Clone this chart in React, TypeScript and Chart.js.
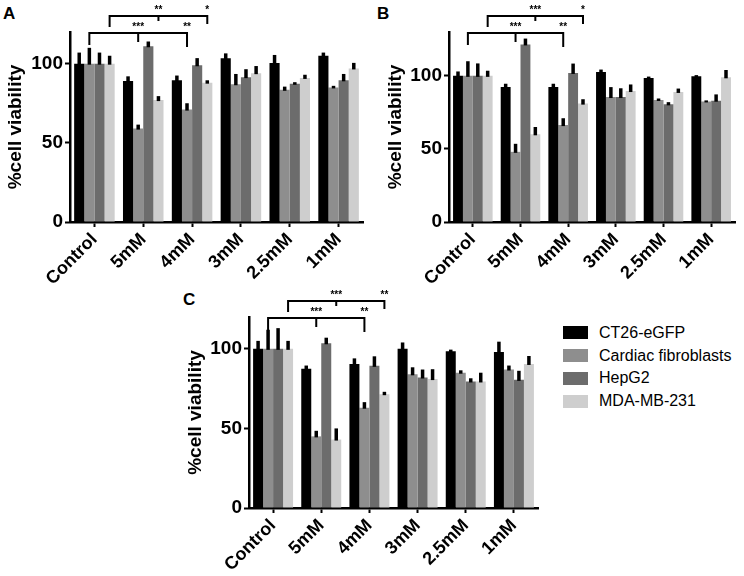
import React, { useEffect, useRef } from "react";
import { Chart, registerables } from "chart.js";

Chart.register(...registerables);

const categories = ["Control", "5mM", "4mM", "3mM", "2.5mM", "1mM"];
const seriesNames = ["CT26-eGFP", "Cardiac fibroblasts", "HepG2", "MDA-MB-231"];
const seriesColors = ["#000000", "#8e8e8e", "#6c6c6c", "#cecece"];
const yTicks = [0, 50, 100];
const yTitle = "%cell viability";

// Panel A
const aCT26 = [100, 89, 89.5, 103.5, 100.5, 105];
const aCardiac = [100, 59, 71, 87, 83.5, 85];
const aHepG2 = [100, 111, 99, 91.5, 87.3, 89.5];
const aMDA = [100, 77, 88, 94, 91, 97];
const aCT26Err = [7, 3, 3, 3, 5, 2];
const aCardiacErr = [10, 2.5, 4, 6.5, 2, 1];
const aHepG2Err = [7, 3, 4.5, 5, 1, 4];
const aMDAErr = [5, 2.5, 1.5, 4.5, 2, 3.5];
const aSigLower = ["***", "**"];
const aSigUpper = ["**", "*"];

// Panel B
const bCT26 = [100, 92.3, 92.3, 102.7, 98.5, 99.8];
const bCardiac = [100, 48, 66.3, 85.5, 83.5, 82.5];
const bHepG2 = [100, 121.5, 102, 85.5, 80.5, 83];
const bMDA = [100, 60, 81, 89.6, 89, 99];
const bCT26Err = [3, 2.3, 2.3, 1.6, 1, 0.7];
const bCardiacErr = [10, 5.5, 4.7, 6.8, 1, 0.7];
const bHepG2Err = [8.5, 4, 6.4, 6, 1.5, 4.3];
const bMDAErr = [3.5, 5, 3, 4.5, 2.3, 5];
const bSigLower = ["***", "**"];
const bSigUpper = ["***", "*"];

// Panel C
const cCT26 = [100, 87.5, 90.5, 100, 98.5, 98];
const cCardiac = [100, 45, 63, 84, 85, 87];
const cHepG2 = [100, 103.5, 89.3, 82, 79.5, 80.5];
const cMDA = [100, 43, 71.5, 81, 79.5, 90.5];
const cCT26Err = [5, 2, 3.5, 4, 1, 6.5];
const cCardiacErr = [12, 3.5, 3.5, 4.4, 1.5, 2.5];
const cHepG2Err = [13, 3.5, 6, 5, 2, 5.7];
const cMDAErr = [5, 7, 1.5, 6.2, 5.5, 5];
const cSigLower = ["***", "**"];
const cSigUpper = ["***", "**"];

// comparisons: series index and the three categories (Control, 5mM, 4mM)
const lowerSeries = 1;
const upperSeries = 3;
const compareCats = [0, 1, 2];

const FONT = '"Liberation Sans", Arial, Helvetica, sans-serif';

const errorBarPlugin = {
  id: "errBars",
  afterDatasetsDraw(chart: any) {
    const ctx = chart.ctx;
    const ys = chart.scales.y;
    chart.data.datasets.forEach((ds: any, i: number) => {
      const meta = chart.getDatasetMeta(i);
      meta.data.forEach((bar: any, j: number) => {
        const v = ds.data[j];
        const e = ds.errors ? ds.errors[j] : 0;
        const yTop = ys.getPixelForValue(v + e);
        const yBar = ys.getPixelForValue(v);
        ctx.save();
        ctx.strokeStyle = "#000";
        ctx.lineWidth = 3.5;
        ctx.beginPath();
        ctx.moveTo(bar.x, yBar + 1);
        ctx.lineTo(bar.x, yTop);
        ctx.stroke();
        ctx.restore();
      });
    });
  },
};

const bracketPlugin = {
  id: "sigBrackets",
  afterDraw(chart: any, _args: any, opts: any) {
    const ctx = chart.ctx;
    const top = chart.chartArea.top;
    const draw = (series: number, labels: string[], yLine: number, tl: number, tm: number, tr: number) => {
      const meta = chart.getDatasetMeta(series);
      const x0 = meta.data[compareCats[0]].x;
      const x1 = meta.data[compareCats[1]].x;
      const x2 = meta.data[compareCats[2]].x;
      ctx.save();
      ctx.strokeStyle = "#000";
      ctx.lineWidth = 2;
      ctx.beginPath();
      ctx.moveTo(x0, yLine + tl);
      ctx.lineTo(x0, yLine);
      ctx.lineTo(x2, yLine);
      ctx.lineTo(x2, yLine + tr);
      ctx.moveTo(x1, yLine);
      ctx.lineTo(x1, yLine + tm);
      ctx.stroke();
      ctx.fillStyle = "#000";
      ctx.font = `bold 10px ${FONT}`;
      ctx.textAlign = "center";
      ctx.textBaseline = "bottom";
      ctx.fillText(labels[0], x1, yLine - 1);
      ctx.fillText(labels[1], x2, yLine - 1);
      ctx.restore();
    };
    draw(lowerSeries, opts.lower, top + 1, 12, 9, 14);
    draw(upperSeries, opts.upper, top - 16, 11, 5, 8);
  },
};

type PanelProps = {
  values: number[][];
  errors: number[][];
  sigLower: string[];
  sigUpper: string[];
  yMax: number;
  left: number;
  top: number;
  width: number;
  height: number;
  padTop: number;
  padRight: number;
  yWidth: number;
  xHeight: number;
  titlePad: number;
};

function BarPanel(p: PanelProps) {
  const ref = useRef<HTMLCanvasElement>(null);
  useEffect(() => {
    const chart = new Chart(ref.current as HTMLCanvasElement, {
      type: "bar",
      data: {
        labels: categories,
        datasets: seriesNames.map((n, i) => ({
          label: n,
          data: p.values[i],
          errors: p.errors[i],
          backgroundColor: seriesColors[i],
          borderWidth: 0,
          categoryPercentage: 0.83,
          barPercentage: 1,
        })) as any,
      },
      options: {
        responsive: false,
        animation: false,
        devicePixelRatio: 1,
        layout: { padding: { top: p.padTop, right: p.padRight, left: 0, bottom: 0 } },
        plugins: {
          legend: { display: false },
          tooltip: { enabled: false },
          sigBrackets: { lower: p.sigLower, upper: p.sigUpper },
        } as any,
        scales: {
          x: {
            grid: {
              display: true,
              drawOnChartArea: false,
              drawTicks: true,
              tickLength: 5,
              tickWidth: 2,
              tickColor: "#000",
              color: "#000",
              offset: false,
            },
            border: { display: true, color: "#000", width: 2.5 },
            ticks: {
              color: "#000",
              font: { family: FONT, size: 18, weight: "bold" },
              minRotation: 45,
              maxRotation: 45,
              autoSkip: false,
              padding: 2,
            },
            afterFit: (s: any) => {
              s.height = p.xHeight;
            },
          },
          y: {
            min: 0,
            max: p.yMax,
            afterBuildTicks: (s: any) => {
              s.ticks = yTicks.map((v) => ({ value: v }));
            },
            grid: {
              display: true,
              drawOnChartArea: false,
              drawTicks: true,
              tickLength: 5,
              tickWidth: 2,
              tickColor: "#000",
              color: "#000",
            },
            border: { display: true, color: "#000", width: 2.5 },
            ticks: {
              color: "#000",
              font: { family: FONT, size: 19, weight: "bold" },
              padding: 2,
            },
            title: {
              display: true,
              text: yTitle,
              color: "#000",
              font: { family: FONT, size: 19, weight: "bold" },
              padding: { top: p.titlePad, bottom: 0 },
            },
            afterFit: (s: any) => {
              s.width = p.yWidth;
            },
          },
        },
      } as any,
      plugins: [errorBarPlugin, bracketPlugin],
    });
    return () => chart.destroy();
  }, []);
  return (
    <canvas
      ref={ref}
      width={p.width}
      height={p.height}
      style={{ position: "absolute", left: p.left, top: p.top, width: p.width, height: p.height }}
    />
  );
}

const letterStyle: React.CSSProperties = {
  position: "absolute",
  font: `bold 17px ${FONT}`,
  lineHeight: "17px",
  color: "#000",
};

export default function App() {
  return (
    <div
      style={{
        position: "absolute",
        left: 0,
        top: 0,
        width: 744,
        height: 576,
        background: "#fff",
        overflow: "hidden",
      }}
    >
      <div style={{ ...letterStyle, left: 3, top: 5 }}>A</div>
      <div style={{ ...letterStyle, left: 377, top: 5 }}>B</div>
      <div style={{ ...letterStyle, left: 183, top: 291 }}>C</div>
      <BarPanel
        values={[aCT26, aCardiac, aHepG2, aMDA]}
        errors={[aCT26Err, aCardiacErr, aHepG2Err, aMDAErr]}
        sigLower={aSigLower}
        sigUpper={aSigUpper}
        yMax={120}
        left={0}
        top={0}
        width={372}
        height={300}
        padTop={32}
        padRight={9}
        yWidth={70}
        xHeight={78}
        titlePad={4.6}
      />
      <BarPanel
        values={[bCT26, bCardiac, bHepG2, bMDA]}
        errors={[bCT26Err, bCardiacErr, bHepG2Err, bMDAErr]}
        sigLower={bSigLower}
        sigUpper={bSigUpper}
        yMax={130}
        left={372}
        top={0}
        width={372}
        height={300}
        padTop={32}
        padRight={9}
        yWidth={77}
        xHeight={78}
        titlePad={12.6}
      />
      <BarPanel
        values={[cCT26, cCardiac, cHepG2, cMDA]}
        errors={[cCT26Err, cCardiacErr, cHepG2Err, cMDAErr]}
        sigLower={cSigLower}
        sigUpper={cSigUpper}
        yMax={120}
        left={180}
        top={290}
        width={380}
        height={286}
        padTop={27}
        padRight={22}
        yWidth={69}
        xHeight={68}
        titlePad={4.6}
      />
      <div style={{ position: "absolute", left: 563, top: 321.6 }}>
        {seriesNames.map((n, i) => (
          <div key={n} style={{ display: "flex", alignItems: "center", height: 22.7 }}>
            <span
              style={{
                display: "inline-block",
                width: 25,
                height: 13,
                background: seriesColors[i],
                marginRight: 11,
              }}
            />
            <span style={{ font: `16px ${FONT}`, color: "#000", whiteSpace: "nowrap" }}>{n}</span>
          </div>
        ))}
      </div>
    </div>
  );
}
